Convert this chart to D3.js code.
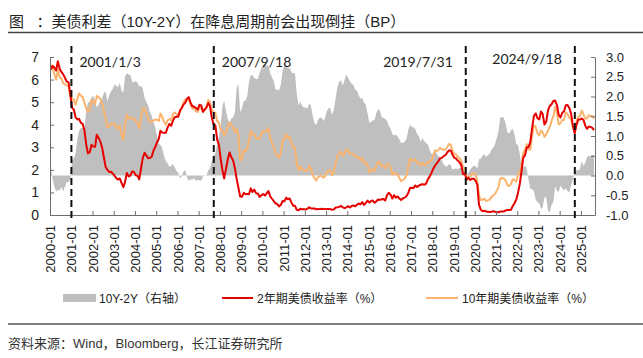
<!DOCTYPE html>
<html><head><meta charset="utf-8">
<script src="https://cdn.jsdelivr.net/npm/d3@7"></script>
<style>
body{margin:0;background:#fff;}
svg{display:block;font-family:"Liberation Sans",Arial,"Noto Sans CJK SC",sans-serif;}
</style>
</head><body>
<svg id="c" width="643" height="358"></svg>
<script>
// Monthly values, Jan 2000 .. Aug 2025
const yield2y = [
6.44,6.61,6.53,6.40,6.81,6.48,6.34,6.23,6.08,5.91,5.88,5.35,
4.76,4.66,4.34,4.23,4.26,4.08,4.04,3.76,3.12,2.73,2.78,3.11,
3.03,3.02,3.56,3.42,3.26,2.99,2.56,2.13,2.00,1.91,1.92,1.84,
1.74,1.63,1.57,1.62,1.42,1.23,1.47,1.86,1.71,1.75,1.93,1.91,
1.76,1.74,1.58,2.07,2.53,2.76,2.64,2.51,2.53,2.58,2.85,3.01,
3.22,3.38,3.73,3.65,3.64,3.64,3.87,4.04,3.95,4.17,4.33,4.35,
4.35,4.64,4.74,4.89,4.97,5.16,5.22,4.98,4.82,4.80,4.74,4.67,
4.88,4.85,4.57,4.67,4.77,4.96,4.82,4.31,4.01,3.97,3.34,3.12,
2.48,1.97,1.62,2.05,2.45,2.77,2.57,2.42,2.08,1.61,1.21,0.82,
0.81,0.98,0.93,0.93,0.92,1.18,1.02,1.12,0.96,0.95,0.80,0.87,
0.93,0.86,0.96,1.06,0.83,0.72,0.62,0.52,0.48,0.38,0.45,0.62,
0.61,0.77,0.70,0.73,0.56,0.41,0.41,0.23,0.21,0.28,0.25,0.26,
0.24,0.28,0.34,0.29,0.29,0.29,0.25,0.27,0.26,0.28,0.27,0.26,
0.27,0.27,0.26,0.23,0.25,0.33,0.34,0.36,0.40,0.34,0.30,0.34,
0.39,0.33,0.40,0.42,0.39,0.45,0.51,0.47,0.57,0.45,0.53,0.64,
0.55,0.62,0.64,0.54,0.61,0.69,0.67,0.70,0.71,0.64,0.88,0.98,
0.90,0.73,0.88,0.77,0.82,0.73,0.67,0.74,0.77,0.84,0.98,1.20,
1.21,1.20,1.31,1.24,1.30,1.34,1.37,1.34,1.38,1.57,1.70,1.84,
2.03,2.18,2.28,2.38,2.51,2.53,2.61,2.65,2.77,2.86,2.86,2.68,
2.54,2.50,2.41,2.34,2.21,1.81,1.84,1.57,1.65,1.55,1.61,1.61,
1.52,1.33,0.45,0.23,0.17,0.19,0.15,0.14,0.13,0.14,0.17,0.14,
0.13,0.12,0.15,0.16,0.16,0.20,0.22,0.22,0.23,0.39,0.52,0.68,
0.98,1.39,1.91,2.54,2.65,2.99,3.01,3.24,3.86,4.38,4.50,4.29,
4.23,4.59,4.47,4.01,4.13,4.64,4.83,4.91,5.05,5.07,4.88,4.44,
4.32,4.53,4.59,4.86,4.87,4.74,4.50,3.97,3.62,3.97,4.23,4.23,
4.27,4.21,3.97,3.82,3.92,3.90,3.86,3.76
];
const yield10y = [
6.66,6.52,6.26,5.99,6.44,6.10,6.05,5.83,5.80,5.74,5.72,5.24,
5.16,5.10,4.89,5.14,5.39,5.28,5.24,4.97,4.73,4.57,4.65,5.09,
5.04,4.91,5.28,5.21,5.16,4.93,4.65,4.26,3.87,3.94,4.05,4.03,
4.05,3.90,3.81,3.96,3.57,3.33,3.98,4.45,4.27,4.29,4.30,4.27,
4.15,4.08,3.83,4.35,4.72,4.73,4.50,4.28,4.13,4.10,4.19,4.23,
4.22,4.17,4.50,4.34,4.14,4.00,4.18,4.26,4.20,4.46,4.54,4.47,
4.42,4.57,4.72,4.99,5.11,5.11,5.09,4.88,4.72,4.73,4.60,4.56,
4.76,4.72,4.56,4.69,4.75,5.10,5.00,4.67,4.52,4.53,4.15,4.10,
3.74,3.74,3.51,3.68,3.88,4.10,4.01,3.89,3.69,3.81,3.53,2.42,
2.52,2.87,2.82,2.93,3.29,3.72,3.56,3.59,3.40,3.39,3.40,3.59,
3.73,3.69,3.73,3.85,3.42,3.20,3.01,2.70,2.65,2.54,2.76,3.29,
3.39,3.58,3.41,3.46,3.17,3.00,3.00,2.30,1.98,2.15,2.01,1.98,
1.97,1.97,2.17,2.05,1.80,1.62,1.53,1.68,1.72,1.75,1.65,1.72,
1.91,1.98,1.96,1.76,1.93,2.30,2.58,2.74,2.81,2.62,2.72,2.90,
2.86,2.71,2.72,2.71,2.56,2.60,2.54,2.42,2.53,2.30,2.33,2.21,
1.88,1.98,2.04,1.94,2.20,2.36,2.32,2.17,2.17,2.07,2.26,2.24,
2.09,1.78,1.89,1.81,1.81,1.64,1.50,1.56,1.63,1.76,2.14,2.49,
2.43,2.42,2.48,2.30,2.30,2.19,2.32,2.21,2.20,2.36,2.35,2.40,
2.58,2.86,2.84,2.87,2.98,2.91,2.89,2.89,3.00,3.15,3.12,2.83,
2.71,2.68,2.57,2.53,2.40,2.07,2.06,1.63,1.70,1.71,1.81,1.86,
1.76,1.50,0.87,0.66,0.67,0.73,0.62,0.65,0.68,0.79,0.87,0.93,
1.08,1.26,1.61,1.64,1.62,1.52,1.32,1.28,1.37,1.58,1.56,1.47,
1.76,1.93,2.13,2.75,2.90,3.14,2.90,2.90,3.52,3.98,3.89,3.62,
3.53,3.75,3.66,3.46,3.57,3.75,3.90,4.17,4.38,4.80,4.50,4.02,
4.06,4.21,4.21,4.54,4.48,4.31,4.25,3.87,3.72,4.10,4.36,4.39,
4.63,4.45,4.28,4.28,4.42,4.38,4.39,4.26
];
const spread = [
0.22,-0.09,-0.27,-0.41,-0.37,-0.38,-0.29,-0.40,-0.28,-0.17,-0.16,-0.11,
0.40,0.44,0.55,0.91,1.13,1.20,1.20,1.21,1.61,1.84,1.87,1.98,
2.01,1.89,1.72,1.79,1.90,1.94,2.09,2.13,1.87,2.03,2.13,2.19,
2.31,2.27,2.24,2.34,2.15,2.10,2.51,2.59,2.56,2.54,2.37,2.36,
2.39,2.34,2.25,2.28,2.19,1.97,1.86,1.77,1.60,1.52,1.34,1.22,
1.00,0.79,0.77,0.69,0.50,0.36,0.31,0.22,0.25,0.29,0.21,0.12,
0.07,-0.07,-0.02,0.10,0.14,-0.05,-0.13,-0.10,-0.10,-0.07,-0.14,-0.11,
-0.12,-0.13,-0.01,0.02,-0.02,0.14,0.18,0.36,0.51,0.56,0.81,0.98,
1.26,1.77,1.89,1.63,1.43,1.33,1.44,1.47,1.61,2.20,2.32,1.60,
1.71,1.89,1.89,2.00,2.37,2.54,2.54,2.47,2.44,2.44,2.60,2.72,
2.80,2.83,2.77,2.79,2.59,2.48,2.39,2.18,2.17,2.16,2.31,2.67,
2.78,2.81,2.71,2.73,2.61,2.59,2.59,2.07,1.77,1.87,1.76,1.72,
1.73,1.69,1.83,1.76,1.51,1.33,1.28,1.41,1.46,1.47,1.38,1.46,
1.64,1.71,1.70,1.53,1.68,1.97,2.24,2.38,2.41,2.28,2.42,2.56,
2.47,2.38,2.32,2.29,2.17,2.15,2.03,1.95,1.96,1.85,1.80,1.57,
1.33,1.36,1.40,1.40,1.59,1.67,1.65,1.47,1.46,1.43,1.38,1.26,
1.19,1.05,1.01,1.04,0.99,0.91,0.83,0.82,0.86,0.92,1.16,1.29,
1.22,1.22,1.17,1.06,1.00,0.85,0.95,0.87,0.82,0.79,0.65,0.56,
0.55,0.68,0.56,0.49,0.47,0.38,0.28,0.24,0.23,0.29,0.26,0.15,
0.17,0.18,0.16,0.19,0.19,0.26,0.22,0.06,0.05,0.16,0.20,0.25,
0.24,0.17,0.42,0.43,0.50,0.54,0.47,0.51,0.55,0.65,0.70,0.79,
0.95,1.14,1.46,1.48,1.46,1.32,1.10,1.06,1.14,1.19,1.04,0.79,
0.78,0.54,0.22,0.21,0.25,0.15,-0.11,-0.34,-0.34,-0.40,-0.61,-0.67,
-0.70,-0.84,-0.81,-0.55,-0.56,-0.89,-0.93,-0.74,-0.67,-0.27,-0.38,-0.42,
-0.26,-0.32,-0.38,-0.32,-0.39,-0.43,-0.25,-0.10,0.10,0.13,0.13,0.16,
0.36,0.24,0.31,0.46,0.50,0.48,0.53,0.50
];
const xTickLabels = ["2000-01","2001-01","2002-01","2003-01","2004-01","2005-01","2006-01","2007-01","2008-01","2009-01","2010-01","2011-01","2012-01","2013-01","2014-01","2015-01","2016-01","2017-01","2018-01","2019-01","2020-01","2021-01","2022-01","2023-01","2024-01","2025-01"];
const leftTicks = [0,1,2,3,4,5,6,7];
const rightTicks = [-1,-0.5,0,0.5,1,1.5,2,2.5,3];
const eventDates = ["2001-01-03","2007-09-18","2019-07-31","2024-09-18"];
const eventLabels = ["2001/1/3","2007/9/18","2019/7/31","2024/9/18"];
const titleText = "图\u00a0\u00a0\u00a0：美债利差（10Y-2Y）在降息周期前会出现倒挂（BP）";
const legendLabels = ["10Y-2Y（右轴）","2年期美债收益率（%）","10年期美债收益率（%）"];
const sourceText = "资料来源：Wind，Bloomberg，长江证券研究所";

const svg = d3.select("#c");
const dates = yield2y.map((_, i) => new Date(2000, i, 15));
const data = dates.map((d, i) => ({date: d, y2: yield2y[i], y10: yield10y[i], sp: spread[i]}));

const x = d3.scaleTime().domain([new Date(2000,0,1), new Date(2025,7,31)]).range([50,595]);
const yL = d3.scaleLinear().domain([0,7]).range([215,57]);
const yR = d3.scaleLinear().domain([-1,3]).range([215,57]);

// title
svg.append("text").attr("x",9).attr("y",27).attr("font-size",15).attr("fill","#222")
  .text(titleText);
svg.append("line").attr("x1",8).attr("x2",643).attr("y1",32.5).attr("y2",32.5)
  .attr("stroke","#444").attr("stroke-width",1.5);

// spread area
svg.append("path").datum(data)
  .attr("fill","#BFBFBF")
  .attr("d", d3.area().x(d=>x(d.date)).y0(yR(0)).y1(d=>yR(d.sp)));

// 10Y
svg.append("path").datum(data).attr("fill","none").attr("stroke","#FBB46E").attr("stroke-width",2)
  .attr("stroke-linejoin","round")
  .attr("d", d3.line().x(d=>x(d.date)).y(d=>yL(d.y10)));
// 2Y
svg.append("path").datum(data).attr("fill","none").attr("stroke","#E60000").attr("stroke-width",2)
  .attr("stroke-linejoin","round")
  .attr("d", d3.line().x(d=>x(d.date)).y(d=>yL(d.y2)));

// axes
const axisColor = "#6e6e6e";
function styleAxis(g){
  g.select(".domain").attr("stroke",axisColor).attr("stroke-width",1);
  g.selectAll(".tick line").attr("stroke",axisColor);
  g.selectAll("text").attr("fill","#222").attr("font-size",13).attr("font-family","'Liberation Sans',Arial,sans-serif");
}
const gl = svg.append("g").attr("transform","translate(50,0)")
  .call(d3.axisLeft(yL).tickValues(leftTicks).tickSizeInner(-4).tickSizeOuter(0).tickPadding(11).tickFormat(d3.format("d")));
styleAxis(gl); gl.selectAll("text").attr("font-size",14);
const gr = svg.append("g").attr("transform","translate(595,0)")
  .call(d3.axisRight(yR).tickValues(rightTicks).tickSizeInner(-4).tickSizeOuter(0).tickPadding(11).tickFormat(d=>d.toFixed(1)));
styleAxis(gr);
const parseM = d3.timeParse("%Y-%m");
const gb = svg.append("g").attr("transform","translate(0,215)")
  .call(d3.axisBottom(x).tickValues(xTickLabels.map(parseM)).tickSizeInner(-4).tickSizeOuter(0).tickFormat(d3.timeFormat("%Y-%m")));
styleAxis(gb);
gb.selectAll("text").attr("transform","rotate(-90)").attr("text-anchor","end")
  .attr("x",-10).attr("y",0).attr("dy","0.35em");

// event dashed lines
const parseD = d3.timeParse("%Y-%m-%d");
eventDates.forEach((ds,i)=>{
  const xx = x(parseD(ds));
  svg.append("line").attr("x1",xx).attr("x2",xx).attr("y1",46).attr("y2",221)
    .attr("stroke","#111").attr("stroke-width",2).attr("stroke-dasharray","7,4");
  const left = i >= 2;
  svg.append("text").attr("x", left ? xx-13 : xx+8).attr("y", i===3 ? 64 : 67)
    .attr("text-anchor", left ? "end" : "start")
    .attr("font-size",14).attr("font-family","Lato,'Liberation Sans',sans-serif").attr("fill","#222")
    .text(eventLabels[i]);
});

// legend
const lg = svg.append("g");
lg.append("rect").attr("x",63).attr("y",294).attr("width",33).attr("height",8).attr("fill","#BFBFBF");
lg.append("text").attr("x",99).attr("y",302.5).attr("font-size",12).attr("fill","#222").text(legendLabels[0]);
lg.append("line").attr("x1",222).attr("x2",253).attr("y1",298).attr("y2",298).attr("stroke","#E60000").attr("stroke-width",2);
lg.append("text").attr("x",257).attr("y",302.5).attr("font-size",12).attr("fill","#222").text(legendLabels[1]);
lg.append("line").attr("x1",426).attr("x2",458).attr("y1",298).attr("y2",298).attr("stroke","#FBB46E").attr("stroke-width",2);
lg.append("text").attr("x",462).attr("y",302.5).attr("font-size",12).attr("fill","#222").text(legendLabels[2]);

// source
svg.append("line").attr("x1",8).attr("x2",643).attr("y1",324).attr("y2",324).attr("stroke","#555").attr("stroke-width",1.5);
svg.append("text").attr("x",8).attr("y",348).attr("font-size",13).attr("fill","#333").text(sourceText);
</script>
</body></html>
